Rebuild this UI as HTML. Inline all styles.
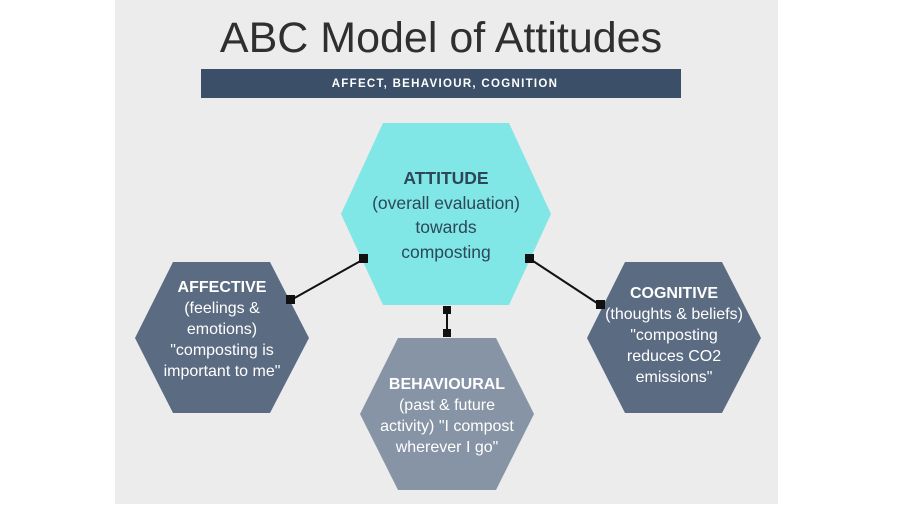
<!DOCTYPE html>
<html><head><style>
body{margin:0;width:898px;height:504px;background:#fff;overflow:hidden;font-family:"Liberation Sans",sans-serif}
</style></head><body>
<svg width="898" height="504" xmlns="http://www.w3.org/2000/svg" font-family="Liberation Sans, sans-serif">
<rect x="115" y="0" width="663" height="504" fill="#ececec"/>
<text x="441" y="52" text-anchor="middle" font-size="43" fill="#2f2f2f">ABC Model of Attitudes</text>
<rect x="201" y="69" width="480" height="29" fill="#3b4f68"/>
<text x="445" y="87" text-anchor="middle" font-size="11.5" font-weight="bold" fill="#fff" letter-spacing="1.3">AFFECT, BEHAVIOUR, COGNITION</text>
<polygon points="383,123 509,123 551,214 509,305 383,305 341,214" fill="#80e6e6"/>
<polygon points="173,262 270,262 309,338 270,413 173,413 135,338" fill="#5b6b82"/>
<polygon points="625,262 722,262 761,338 722,413 625,413 587,338" fill="#5b6b82"/>
<polygon points="398,338 496,338 534,414 496,490 398,490 360,414" fill="#8794a5"/>
<g stroke="#111" stroke-width="2">
<line x1="291" y1="300" x2="364" y2="259"/>
<line x1="530" y1="259" x2="600" y2="305"/>
<line x1="447" y1="309" x2="447" y2="333"/>
</g>
<g fill="#111">
<rect x="286" y="295" width="9" height="9"/><rect x="359" y="254" width="9" height="9"/>
<rect x="525" y="254" width="9" height="9"/><rect x="596" y="300" width="9" height="9"/>
<rect x="443" y="306" width="8" height="8"/><rect x="443" y="329" width="8" height="8"/>
</g>
<g text-anchor="middle" font-size="17.5" fill="#2c4858">
<text x="446" y="184" font-weight="bold">ATTITUDE</text>
<text x="446" y="209">(overall evaluation)</text>
<text x="446" y="233">towards</text>
<text x="446" y="258">composting</text>
</g>
<g text-anchor="middle" font-size="16" fill="#fff">
<text x="222" y="292" font-weight="bold">AFFECTIVE</text>
<text x="222" y="313">(feelings &amp;</text>
<text x="222" y="334">emotions)</text>
<text x="222" y="355">"composting is</text>
<text x="222" y="376">important to me"</text>
<text x="674" y="298" font-weight="bold">COGNITIVE</text>
<text x="674" y="319">(thoughts &amp; beliefs)</text>
<text x="674" y="340">"composting</text>
<text x="674" y="361">reduces CO2</text>
<text x="674" y="382">emissions"</text>
<text x="447" y="389" font-weight="bold">BEHAVIOURAL</text>
<text x="447" y="410">(past &amp; future</text>
<text x="447" y="431">activity) "I compost</text>
<text x="447" y="452">wherever I go"</text>
</g>
</svg>
</body></html>
